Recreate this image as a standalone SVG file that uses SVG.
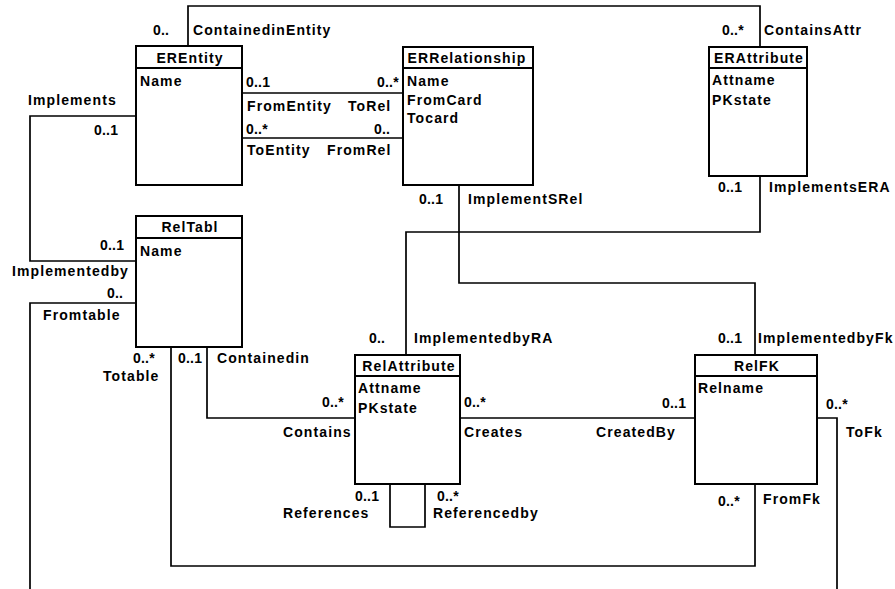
<svg xmlns="http://www.w3.org/2000/svg" width="895" height="589" viewBox="0 0 895 589">
<style>
text{font-family:"Liberation Sans",Arial,sans-serif;font-weight:bold;font-size:14px;letter-spacing:1.1px;fill:#000}
.m{letter-spacing:0.2px}
.t{text-anchor:middle}
.box{fill:#fff;stroke:#000;stroke-width:2}
.hd{stroke:#000;stroke-width:2}
.c{fill:none;stroke:#000;stroke-width:1.7}
</style>
<rect width="895" height="589" fill="#fff"/>
<g id="connectors">
<polyline class="c" points="188,46 188,6 760,6 760,47"/>
<polyline class="c" points="242,93 403,93"/>
<polyline class="c" points="242,138 403,138"/>
<polyline class="c" points="136,116 30,116 30,261 136,261"/>
<polyline class="c" points="136,303 30,303 30,589"/>
<polyline class="c" points="171,347 171,566 755,566 755,484"/>
<polyline class="c" points="207,347 207,418 355,418"/>
<polyline class="c" points="390,484 390,527 425,527 425,484"/>
<polyline class="c" points="460,418 695,418"/>
<polyline class="c" points="817,418 837,418 837,589"/>
<polyline class="c" points="459,185 459,283 755,283 755,355"/>
<polyline class="c" points="760,176 760,232 406,232 406,355"/>
</g>
<g id="labels">
<text class="m" x="153" y="35">0..</text>
<text x="193" y="35">ContainedinEntity</text>
<text class="m" x="722" y="35">0..*</text>
<text x="764" y="35">ContainsAttr</text>
<text class="m" x="246" y="87">0..1</text>
<text class="m" x="377" y="87">0..*</text>
<text x="247" y="111">FromEntity</text>
<text x="348" y="111">ToRel</text>
<text class="m" x="246" y="134">0..*</text>
<text class="m" x="374" y="134">0..</text>
<text x="247" y="155">ToEntity</text>
<text x="327" y="155">FromRel</text>
<text x="28" y="105">Implements</text>
<text class="m" x="94" y="135">0..1</text>
<text class="m" x="100" y="250">0..1</text>
<text x="12" y="276">Implementedby</text>
<text class="m" x="107" y="298">0..</text>
<text x="43" y="320">Fromtable</text>
<text class="m" x="133" y="363">0..*</text>
<text x="103" y="381">Totable</text>
<text class="m" x="178" y="363">0..1</text>
<text x="217" y="363">Containedin</text>
<text class="m" x="322" y="407">0..*</text>
<text x="283" y="437">Contains</text>
<text class="m" x="464" y="407">0..*</text>
<text x="464" y="437">Creates</text>
<text class="m" x="662" y="408">0..1</text>
<text x="596" y="437">CreatedBy</text>
<text class="m" x="826" y="409">0..*</text>
<text x="846" y="437">ToFk</text>
<text class="m" x="355" y="501">0..1</text>
<text x="283" y="518">References</text>
<text class="m" x="437" y="501">0..*</text>
<text x="433" y="518">Referencedby</text>
<text class="m" x="718" y="506">0..*</text>
<text x="763" y="504">FromFk</text>
<text class="m" x="419" y="204">0..1</text>
<text x="468" y="204">ImplementSRel</text>
<text class="m" x="718" y="192">0..1</text>
<text x="769" y="192">ImplementsERA</text>
<text class="m" x="369" y="343">0..</text>
<text x="414" y="343">ImplementedbyRA</text>
<text class="m" x="718" y="343">0..1</text>
<text x="758" y="343">ImplementedbyFk</text>
</g>
<g id="EREntity">
<rect class="box" x="136" y="46" width="106" height="139"/>
<line class="hd" x1="136" y1="68" x2="242" y2="68"/>
<text class="t" x="190" y="63">EREntity</text>
<text x="140" y="86">Name</text>
</g>
<g id="ERRelationship">
<rect class="box" x="403" y="47" width="130" height="138"/>
<line class="hd" x1="403" y1="68" x2="533" y2="68"/>
<text class="t" x="467" y="63">ERRelationship</text>
<text x="407" y="86">Name</text>
<text x="407" y="105">FromCard</text>
<text x="407" y="123">Tocard</text>
</g>
<g id="ERAttribute">
<rect class="box" x="709" y="47" width="98" height="129"/>
<line class="hd" x1="709" y1="68" x2="807" y2="68"/>
<text class="t" x="759" y="63">ERAttribute</text>
<text x="712" y="85">Attname</text>
<text x="712" y="105">PKstate</text>
</g>
<g id="RelTabl">
<rect class="box" x="136" y="216" width="106" height="131"/>
<line class="hd" x1="136" y1="238" x2="242" y2="238"/>
<text class="t" x="190" y="232">RelTabl</text>
<text x="140" y="256">Name</text>
</g>
<g id="RelAttribute">
<rect class="box" x="355" y="355" width="105" height="129"/>
<line class="hd" x1="355" y1="376" x2="460" y2="376"/>
<text class="t" x="409" y="371">RelAttribute</text>
<text x="358" y="393">Attname</text>
<text x="358" y="413">PKstate</text>
</g>
<g id="RelFK">
<rect class="box" x="695" y="355" width="122" height="129"/>
<line class="hd" x1="695" y1="376" x2="817" y2="376"/>
<text class="t" x="757" y="371">RelFK</text>
<text x="698" y="393">Relname</text>
</g>
</svg>
